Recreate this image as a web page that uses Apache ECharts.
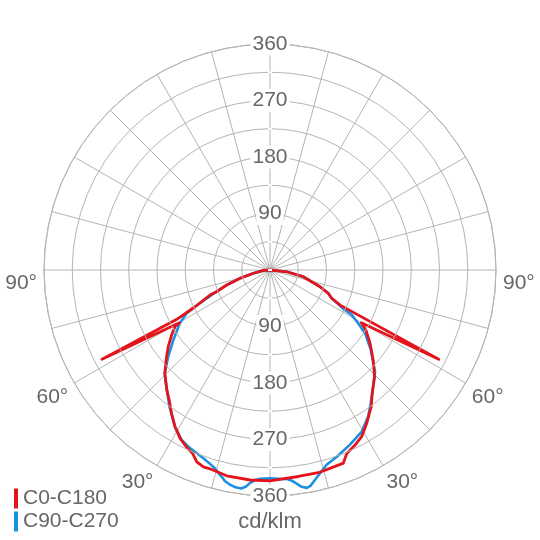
<!DOCTYPE html>
<html>
<head>
<meta charset="utf-8">
<script src="https://cdn.jsdelivr.net/npm/echarts@6/dist/echarts.min.js"></script>
<style>
  html, body { margin: 0; padding: 0; background: #fff; }
  #main { width: 540px; height: 540px; }
</style>
</head>
<body>
<div id="main"></div>
<script>
// gamma = angle from nadir, left half goes 90 -> 0, right half 0 -> 90
var redLeftAngle  = [90, 86, 79, 74.5, 70.9, 67.9, 67.4, 63.9, 62.1, 62, 59.8, 59.2, 56.5, 53, 49.1, 45.5, 40.7, 37.8, 34.5, 31.2, 28.1, 25.2, 22.9, 20.9, 18.7, 16.3, 11.9, 5.4, 0];
var redLeftValue  = [0, 10, 27, 50, 73, 92, 103, 133, 168, 303, 167, 176, 188, 203, 219, 235, 252, 262, 277, 292, 304, 312, 317, 327, 331, 331, 335, 336, 336];
var redRightAngle = [0, 7.8, 13.4, 16.8, 20.8, 22.7, 25.9, 28.8, 32.2, 36.5, 39.7, 44.4, 48.9, 53.8, 58, 60, 62.1, 63.4, 65.4, 68.2, 71.5, 78.6, 84, 90];
var redRightValue = [336, 332, 332, 330, 329, 317, 310, 303, 289, 271, 255, 238, 218, 197.5, 180, 168, 304, 125, 108, 100, 84, 54, 27, 0];

var blueLeftAngle  = [90, 84, 79, 74.5, 70.9, 67.9, 65.9, 63.9, 62.5, 59.4, 54.1, 49.6, 45.5, 40.7, 36.4, 31.2, 27.5, 24.2, 19.5, 16.1, 13.2, 12, 10.5, 9, 7.5, 6.3, 5.4, 4.2, 2.7, 0];
var blueLeftValue  = [0, 13, 27, 50, 73, 92, 110, 133, 150, 167, 190, 213, 235, 252, 270, 292, 305, 311, 318, 326, 338, 344, 348, 350.5, 351, 347, 341, 336, 333, 332];
var blueRightAngle = [0, 2.5, 4.6, 5.8, 7.1, 8.3, 9.6, 10.6, 11.5, 13.3, 16.2, 19.7, 24.6, 29.6, 33.8, 37.1, 41.5, 45.9, 51.6, 56.3, 58.9, 61.2, 61.9, 65.4, 68.2, 71.5, 78.6, 84, 90];
var blueRightValue = [332, 333, 334, 337, 343, 349, 352, 350, 345, 336, 323, 316, 306, 296, 281, 266, 248, 233, 205, 182, 164, 148.5, 135, 108, 100, 84, 54, 27, 0];

var seriesNames = ['C0-C180', 'C90-C270'];
var radiusTicks = [90, 180, 270, 360];
var angleTicks = [30, 60, 90];

// left half -> positive angle, right half -> negative angle
function buildCurve(la, lv, ra, rv) {
  var out = [];
  for (var i = 0; i < la.length; i++) out.push([lv[i], la[i]]);
  for (var j = 0; j < ra.length; j++) out.push([rv[j], -ra[j]]);
  return out;
}

var gridColor = '#b4b4b4';
var textColor = '#676767';
var font = 'Liberation Sans, Arial, sans-serif';

function radiusLabel(v) {
  return radiusTicks.indexOf(v) >= 0 ? String(v) : '';
}

var chart = echarts.init(document.getElementById('main'));
chart.setOption({
  backgroundColor: '#fff',
  animation: false,
  title: {
    text: 'cd/klm',
    left: 'center',
    top: 506,
    textStyle: { fontSize: 22, fontWeight: 'normal', color: textColor, fontFamily: font }
  },
  legend: {
    orient: 'vertical',
    left: 9,
    top: 483,
    itemWidth: 4,
    itemHeight: 20,
    itemGap: 2,
    textStyle: { fontSize: 21, color: textColor, fontFamily: font },
    data: [
      { name: seriesNames[0], icon: 'rect' },
      { name: seriesNames[1], icon: 'rect' }
    ]
  },
  polar: [
    { center: ['50%', '50%'], radius: 226 },
    { center: ['50%', '50%'], radius: 226 }
  ],
  // min (-180) sits at startAngle, so 90 puts -180 on top and 0 at the bottom
  angleAxis: [{
    polarIndex: 0,
    type: 'value',
    min: -180,
    max: 180,
    interval: 15,
    startAngle: 90,
    clockwise: true,
    axisLine: { lineStyle: { color: gridColor, width: 1 } },
    axisTick: { show: false },
    splitLine: { lineStyle: { color: gridColor, width: 1 } },
    axisLabel: {
      margin: 7,
      fontSize: 21,
      color: textColor,
      fontFamily: font,
      formatter: function (v) {
        var a = Math.abs(v);
        if (angleTicks.indexOf(a) < 0) return '';
        return a === 90 ? '{low|90°}' : a + '°';
      },
      rich: {
        low: { fontSize: 21, color: textColor, fontFamily: font, padding: [26, 0, 0, 0] }
      }
    }
  }, {
    polarIndex: 1,
    type: 'value',
    min: -180,
    max: 180,
    startAngle: 270,
    show: false
  }],
  radiusAxis: [{
    polarIndex: 0,
    min: 0,
    max: 360,
    interval: 45,
    axisLine: { show: false },
    axisTick: { show: false },
    splitLine: { lineStyle: { color: gridColor, width: 1 } },
    axisLabel: {
      margin: 0,
      align: 'center',
      verticalAlign: 'middle',
      fontSize: 21,
      color: textColor,
      fontFamily: font,
      backgroundColor: '#fff',
      padding: [1, 2],
      formatter: radiusLabel
    },
    z: 5
  }, {
    polarIndex: 1,
    min: 0,
    max: 360,
    interval: 45,
    axisLine: { show: false },
    axisTick: { show: false },
    splitLine: { show: false },
    axisLabel: {
      margin: 0,
      align: 'center',
      verticalAlign: 'middle',
      fontSize: 21,
      color: textColor,
      fontFamily: font,
      backgroundColor: '#fff',
      padding: [1, 2],
      formatter: radiusLabel
    },
    z: 5
  }],
  series: [{
    name: seriesNames[1],
    type: 'line',
    coordinateSystem: 'polar',
    polarIndex: 0,
    showSymbol: false,
    color: '#1b8fe2',
    lineStyle: { width: 2.6, color: '#1b8fe2' },
    data: buildCurve(blueLeftAngle, blueLeftValue, blueRightAngle, blueRightValue),
    z: 3
  }, {
    name: seriesNames[0],
    type: 'line',
    coordinateSystem: 'polar',
    polarIndex: 0,
    showSymbol: false,
    color: '#e3141c',
    lineStyle: { width: 2.8, color: '#e3141c', join: 'round' },
    data: buildCurve(redLeftAngle, redLeftValue, redRightAngle, redRightValue),
    z: 4
  }]
});
</script>
</body>
</html>
